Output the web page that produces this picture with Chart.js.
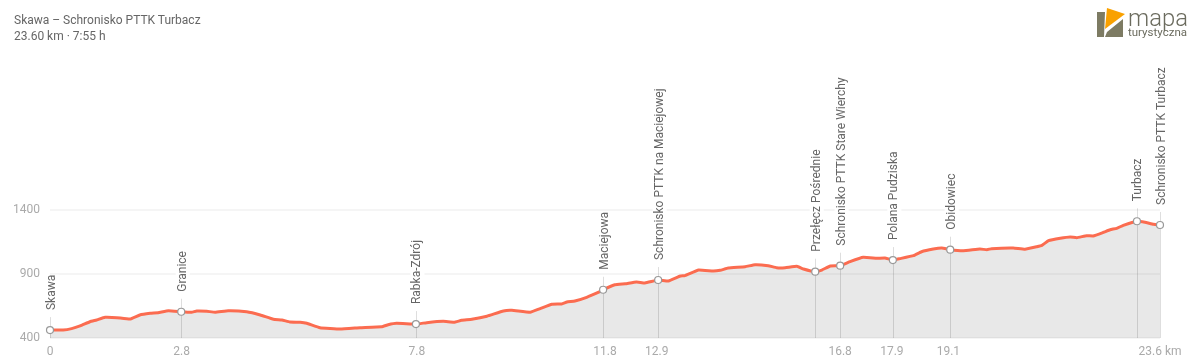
<!DOCTYPE html>
<html>
<head>
<meta charset="utf-8">
<title>Skawa – Schronisko PTTK Turbacz</title>
<script src="https://cdn.jsdelivr.net/npm/chart.js@4/dist/chart.umd.min.js"></script>
<style>
    html, body { margin: 0; padding: 0; background: #fff; width: 1200px; height: 362px; overflow: hidden; }
    #wrap { position: relative; width: 1200px; height: 362px; font-family: Roboto, sans-serif; }
    #profile { position: absolute; left: 0; top: 0; }
    #title { position: absolute; left: 14px; top: 12px; font-size: 12px; line-height: 16px; color: #666; }
    #logo { position: absolute; left: 1090px; top: 4px; }
</style>
</head>
<body>
<div id="wrap">
    <canvas id="profile" width="1200" height="362"></canvas>
    <div id="title">Skawa – Schronisko PTTK Turbacz<br>23.60 km · 7:55 h</div>
    <svg id="logo" width="110" height="40" viewBox="1090 4 110 40">
        <path d="M1097 12h8l-1 25h-7z M1107 32l16-13v18h-18z" fill="#7d7b63"/>
        <path d="M1107 8l18 6-20 15z" fill="#f9a100"/>
        <text x="1128" y="26" font-family="Roboto, sans-serif" font-weight="300" font-size="23" textLength="60" lengthAdjust="spacingAndGlyphs" fill="#6b6b5e">mapa</text>
        <text x="1128" y="36" font-family="Roboto, sans-serif" font-size="11" textLength="59" lengthAdjust="spacingAndGlyphs" fill="#6b6b5e">turystyczna</text>
    </svg>
</div>
<script>
const distances = [0, 0.28, 0.46, 0.64, 0.85, 0.99, 1.17, 1.42, 1.70, 1.91, 2.13, 2.30, 2.52, 2.79, 3.01, 3.12, 3.33, 3.51, 3.79, 4.18,
    4.47, 4.75, 4.93, 5.10, 5.32, 5.46, 5.74, 6.17, 6.59, 7.05, 7.19, 7.37, 7.78, 8.01, 8.36, 8.59, 8.75, 8.97, 9.29, 9.64,
    9.82, 10.21, 10.42, 10.67, 10.88, 10.99, 11.16, 11.41, 11.69, 11.76, 12.01, 12.23, 12.47, 12.65, 12.93, 13.15, 13.40, 13.50, 13.79, 14.10,
    14.25, 14.42, 14.78, 14.99, 15.27, 15.45, 15.63, 15.88, 16.02, 16.27, 16.41, 16.59, 16.80, 17.01, 17.29, 17.58, 17.75, 17.92, 18.07, 18.36,
    18.53, 18.78, 18.96, 19.14, 19.42, 19.77, 19.92, 20.02, 20.48, 20.73, 20.98, 21.09, 21.23, 21.48, 21.69, 21.83, 22.04, 22.18, 22.40, 22.54,
    22.68, 22.82, 23.11, 23.28, 23.46, 23.60];
const elevations = [462, 462, 473, 494, 527, 541, 562, 559, 548, 580, 593, 598, 613, 605, 601, 611, 609, 601, 613, 605,
    580, 546, 541, 525, 523, 515, 480, 470, 480, 488, 504, 515, 509, 520, 530, 523, 538, 546, 570, 611,
    616, 601, 629, 663, 666, 681, 689, 718, 762, 777, 816, 824, 838, 830, 853, 845, 884, 887, 931, 923,
    929, 947, 957, 973, 965, 949, 949, 960, 939, 918, 931, 963, 965, 996, 1030, 1023, 1025, 1009, 1020, 1043,
    1074, 1095, 1103, 1090, 1082, 1095, 1090, 1098, 1103, 1093, 1113, 1124, 1160, 1179, 1189, 1184, 1199, 1197, 1226, 1246,
    1257, 1280, 1312, 1304, 1288, 1283];

const stopNames = ['Skawa', 'Granice', 'Rabka-Zdrój', 'Maciejowa', 'Schronisko PTTK na Maciejowej', 'Przełęcz Pośrednie',
    'Schronisko PTTK Stare Wierchy', 'Polana Pudziska', 'Obidowiec', 'Turbacz', 'Schronisko PTTK Turbacz'];
const stopKm = [0, 2.79, 7.78, 11.76, 12.93, 16.27, 16.80, 17.92, 19.14, 23.11, 23.60];
const stopElevations = [462, 605, 509, 777, 853, 918, 965, 1009, 1090, 1312, 1283];

const xTicks = [0, 2.8, 7.8, 11.8, 12.9, 16.8, 17.9, 19.1, 23.6];
const yTicks = [400, 900, 1400];

// stems and vertical names above each stop
const stopLabels = {
    id: 'stopLabels',
    beforeDatasetsDraw(chart) {
        const { ctx, scales: { x, y } } = chart;
        ctx.save();
        ctx.strokeStyle = 'rgba(0,0,0,0.13)';
        ctx.lineWidth = 1;
        stopKm.forEach((km, i) => {
            const px = Math.round(x.getPixelForValue(km)) + 0.5;
            ctx.beginPath();
            ctx.moveTo(px, y.getPixelForValue(400));
            ctx.lineTo(px, y.getPixelForValue(stopElevations[i]) - 13);
            ctx.stroke();
        });
        ctx.restore();
    },
    afterDatasetsDraw(chart) {
        const { ctx, scales: { x, y } } = chart;
        ctx.save();
        ctx.font = '12px Roboto';
        ctx.textAlign = 'left';
        ctx.textBaseline = 'middle';
        stopNames.forEach((name, i) => {
            ctx.save();
            ctx.translate(x.getPixelForValue(stopKm[i]) + 1.5, y.getPixelForValue(stopElevations[i]) - 20);
            ctx.rotate(-Math.PI / 2);
            ctx.fillStyle = '#fff';
            ctx.fillRect(0, -7, ctx.measureText(name).width, 14);
            ctx.fillStyle = '#666';
            ctx.fillText(name, 0, 0);
            ctx.restore();
        });
        ctx.restore();
    }
};

const ctx = document.getElementById('profile').getContext('2d');
new Chart(ctx, {
    type: 'line',
    data: {
        datasets: [{
            data: stopKm.map((km, i) => ({ x: km, y: stopElevations[i] })),
            showLine: false,
            pointRadius: 3.5,
            pointBorderWidth: 1.2,
            pointBackgroundColor: '#fff',
            pointBorderColor: '#999',
            clip: false,
        }, {
            data: distances.map((km, i) => ({ x: km, y: elevations[i] })),
            borderColor: '#fb6c50',
            borderWidth: 3,
            backgroundColor: 'rgba(0,0,0,0.09)',
            fill: 'start',
            pointRadius: 0,
            tension: 0.1,
            clip: false,
        }]
    },
    options: {
        responsive: false,
        animation: false,
        devicePixelRatio: 1,
        layout: { padding: { top: 210, right: 40, bottom: 0, left: 0 } },
        plugins: { legend: { display: false }, tooltip: { enabled: false } },
        scales: {
            x: {
                type: 'linear',
                min: 0,
                max: 23.6,
                afterFit: (scale) => { scale.height = 24; },
                afterBuildTicks: (scale) => { scale.ticks = xTicks.map((v) => ({ value: v })); },
                grid: { display: false, drawTicks: false },
                border: { display: false },
                ticks: {
                    autoSkip: false,
                    maxRotation: 0,
                    padding: 7,
                    color: '#aaa',
                    font: { family: 'Roboto', size: 12 },
                    callback: (v) => (v === 23.6 ? v + ' km' : String(v)),
                },
            },
            y: {
                min: 400,
                max: 1400,
                afterFit: (scale) => { scale.width = 50; },
                afterBuildTicks: (scale) => { scale.ticks = yTicks.map((v) => ({ value: v })); },
                grid: { color: 'rgba(0,0,0,0.04)', lineWidth: 2, drawTicks: false },
                border: { display: false },
                ticks: {
                    padding: 10,
                    color: '#aaa',
                    font: { family: 'Roboto', size: 12 },
                    callback: (v) => String(v),
                },
            },
        },
    },
    plugins: [stopLabels],
});
</script>
</body>
</html>
